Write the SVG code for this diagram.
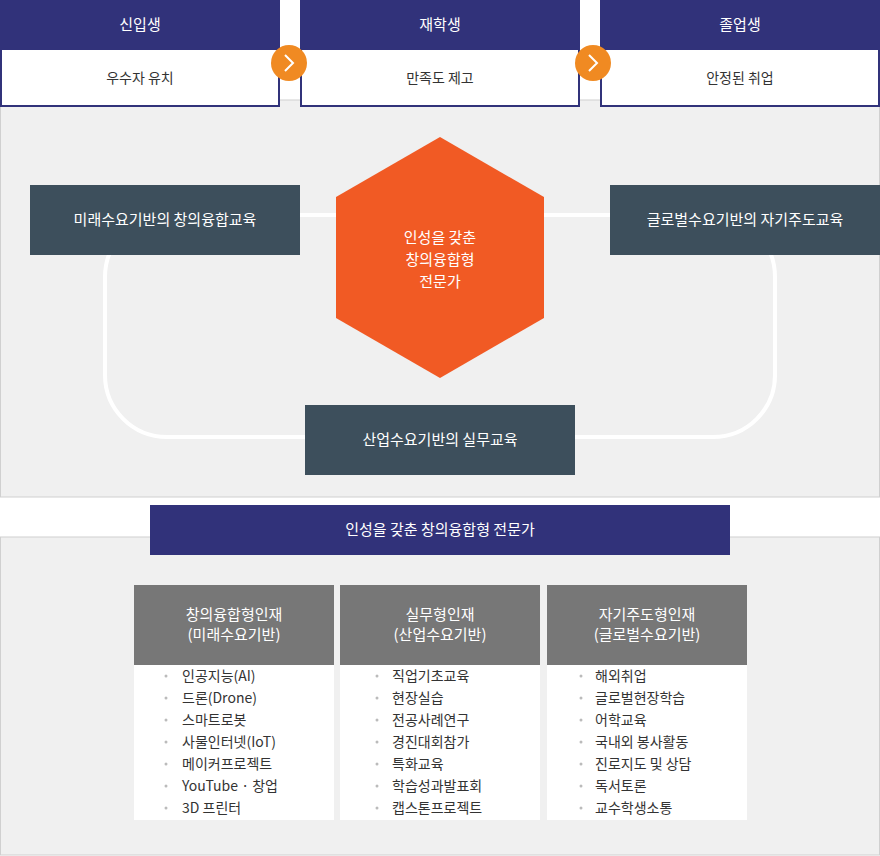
<svg xmlns="http://www.w3.org/2000/svg" width="880" height="856" viewBox="0 0 880 856">
<style>
text{font-family:"Noto Sans CJK KR","Noto Sans",sans-serif}
.hd{fill:#31327a}
.wt{fill:#fff;font-size:15px;text-anchor:middle}
.dk{fill:#333;font-size:14px;text-anchor:middle}
.box{fill:#3d4f5c}
.li{fill:#333;font-size:14px}
.bu{fill:#bbb}
.ch{fill:#777}
</style>
<rect x="0.5" y="100" width="879" height="397" fill="#f0f0f0" stroke="#d0d0d0"/>
<rect x="0.5" y="537" width="879" height="318" fill="#f0f0f0" stroke="#d0d0d0"/>
<g id="connectors">
<rect x="105" y="215" width="670" height="222" rx="62" fill="none" stroke="#fff" stroke-width="4"/>
</g>
<g id="top1"><rect x="1" y="49" width="278" height="57" fill="#fff" stroke="#31327a" stroke-width="2"/><rect class="hd" x="0" y="0" width="280" height="50"/><text class="wt" x="140" y="30">신입생</text><text class="dk" x="140" y="83">우수자 유치</text></g>
<g id="top2"><rect x="301" y="49" width="278" height="57" fill="#fff" stroke="#31327a" stroke-width="2"/><rect class="hd" x="300" y="0" width="280" height="50"/><text class="wt" x="440" y="30">재학생</text><text class="dk" x="440" y="83">만족도 제고</text></g>
<g id="top3"><rect x="601" y="49" width="278" height="57" fill="#fff" stroke="#31327a" stroke-width="2"/><rect class="hd" x="600" y="0" width="280" height="50"/><text class="wt" x="740" y="30">졸업생</text><text class="dk" x="740" y="83">안정된 취업</text></g>
<g id="arrow1"><circle cx="289" cy="63" r="18" fill="#f08a22"/><path d="M285 55l8 8-8 8" fill="none" stroke="#fff" stroke-width="2"/></g>
<g id="arrow2"><circle cx="593" cy="63" r="18" fill="#f08a22"/><path d="M589 55l8 8-8 8" fill="none" stroke="#fff" stroke-width="2"/></g>
<g id="left"><rect class="box" x="30" y="185" width="270" height="70"/><text class="wt" x="165" y="225">미래수요기반의 창의융합교육</text></g>
<g id="right"><rect class="box" x="610" y="185" width="270" height="70"/><text class="wt" x="745" y="225">글로벌수요기반의 자기주도교육</text></g>
<g id="bottom"><rect class="box" x="305" y="405" width="270" height="70"/><text class="wt" x="440" y="445">산업수요기반의 실무교육</text></g>
<g id="hex"><polygon points="440,137 544,197 544,318 440,378 336,318 336,197" fill="#f15a24"/>
<text class="wt" x="440" y="243" font-size="16">인성을 갖춘</text><text class="wt" x="440" y="265" font-size="16">창의융합형</text><text class="wt" x="440" y="287" font-size="16">전문가</text></g>
<g id="banner"><rect class="hd" x="150" y="505" width="580" height="50"/><text class="wt" x="440" y="535">인성을 갖춘 창의융합형 전문가</text></g>
<g id="col1"><rect class="ch" x="134" y="585" width="200" height="80"/><rect fill="#fff" x="134" y="665" width="200" height="155"/>
<text class="wt" x="234" y="620">창의융합형인재</text><text class="wt" x="234" y="640">(미래수요기반)</text>
<g class="li"><text x="182" y="681">인공지능(AI)</text><text x="182" y="703">드론(Drone)</text><text x="182" y="725">스마트로봇</text><text x="182" y="747">사물인터넷(IoT)</text><text x="182" y="769">메이커프로젝트</text><text x="182" y="791">YouTube · 창업</text><text x="182" y="813">3D 프린터</text></g>
<g class="bu"><circle cx="166" cy="676" r="1.5"/><circle cx="166" cy="698" r="1.5"/><circle cx="166" cy="720" r="1.5"/><circle cx="166" cy="742" r="1.5"/><circle cx="166" cy="764" r="1.5"/><circle cx="166" cy="786" r="1.5"/><circle cx="166" cy="808" r="1.5"/></g></g>
<g id="col2"><rect class="ch" x="340" y="585" width="200" height="80"/><rect fill="#fff" x="340" y="665" width="200" height="155"/>
<text class="wt" x="440" y="620">실무형인재</text><text class="wt" x="440" y="640">(산업수요기반)</text>
<g class="li"><text x="392" y="681">직업기초교육</text><text x="392" y="703">현장실습</text><text x="392" y="725">전공사례연구</text><text x="392" y="747">경진대회참가</text><text x="392" y="769">특화교육</text><text x="392" y="791">학습성과발표회</text><text x="392" y="813">캡스톤프로젝트</text></g>
<g class="bu"><circle cx="377" cy="676" r="1.5"/><circle cx="377" cy="698" r="1.5"/><circle cx="377" cy="720" r="1.5"/><circle cx="377" cy="742" r="1.5"/><circle cx="377" cy="764" r="1.5"/><circle cx="377" cy="786" r="1.5"/><circle cx="377" cy="808" r="1.5"/></g></g>
<g id="col3"><rect class="ch" x="547" y="585" width="200" height="80"/><rect fill="#fff" x="547" y="665" width="200" height="155"/>
<text class="wt" x="647" y="620">자기주도형인재</text><text class="wt" x="647" y="640">(글로벌수요기반)</text>
<g class="li"><text x="595" y="681">해외취업</text><text x="595" y="703">글로벌현장학습</text><text x="595" y="725">어학교육</text><text x="595" y="747">국내외 봉사활동</text><text x="595" y="769">진로지도 및 상담</text><text x="595" y="791">독서토론</text><text x="595" y="813">교수학생소통</text></g>
<g class="bu"><circle cx="581" cy="676" r="1.5"/><circle cx="581" cy="698" r="1.5"/><circle cx="581" cy="720" r="1.5"/><circle cx="581" cy="742" r="1.5"/><circle cx="581" cy="764" r="1.5"/><circle cx="581" cy="786" r="1.5"/><circle cx="581" cy="808" r="1.5"/></g></g>
</svg>
